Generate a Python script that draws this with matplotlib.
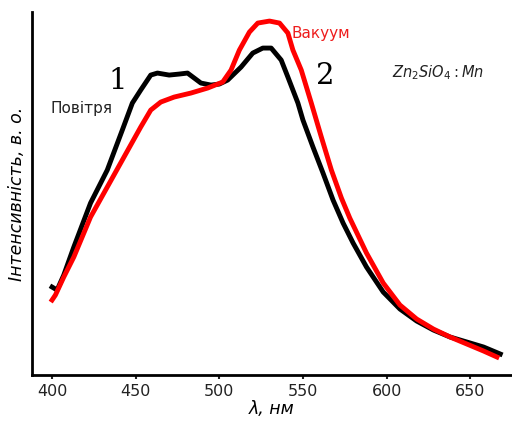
import matplotlib
matplotlib.use("Agg")
import matplotlib.pyplot as plt

# wavelength (nm) and intensity (arb. units)
air_nm = [400, 403, 407, 413, 423, 433, 442, 448, 453, 459, 463, 470, 476, 481,
          489, 495, 500, 505, 513, 520, 526, 531, 537, 541, 547, 550, 556, 562,
          568, 574, 580, 588, 598, 608, 618, 628, 638, 648, 658, 668]
air_int = [88, 85, 100, 128, 172, 205, 245, 272, 285, 300, 302, 300, 301, 302,
           292, 290, 291, 295, 308, 322, 327, 327, 315, 298, 272, 255, 228, 202,
           175, 152, 132, 108, 83, 66, 54, 45, 38, 33, 28, 21]
vac_nm = [400, 402, 407, 413, 423, 433, 443, 453, 459, 465, 473, 483, 493, 502,
          507, 512, 518, 523, 530, 536, 541, 544, 549, 555, 561, 567, 573, 578,
          588, 598, 608, 618, 628, 638, 648, 658, 666]
vac_int = [75, 80, 98, 118, 158, 188, 218, 248, 265, 273, 278, 282, 287, 293,
           305, 325, 343, 352, 354, 352, 342, 325, 305, 272, 238, 205, 177, 157,
           122, 92, 70, 56, 46, 38, 31, 24, 18]

xticks = [400, 450, 500, 550, 600, 650]

fig = plt.figure(figsize=(5.12, 4.25), dpi=100)
ax = fig.add_axes([0.0625, 0.1176, 0.9375, 0.854])

ax.plot(air_nm, air_int, color="black", lw=3.5)
ax.plot(vac_nm, vac_int, color="#ff0000", lw=3.5)

ax.set_xlim(388, 675)
ax.set_ylim(0, 363)
ax.set_xticks(xticks)
ax.set_yticks([])
ax.tick_params(axis="x", labelsize=11.5, length=3, width=1.5, colors="#222222")
for s in ["top", "right"]:
    ax.spines[s].set_visible(False)
for s in ["left", "bottom"]:
    ax.spines[s].set_linewidth(2)

ax.set_xlabel("λ, нм", fontsize=12.5, style="italic", labelpad=1)
ax.set_ylabel("Інтенсивність, в. о.", fontsize=12.5, style="italic", labelpad=4)

ax.text(439, 294, "1", fontsize=21, family="DejaVu Serif", ha="center", va="center")
ax.text(563.5, 299, "2", fontsize=21, family="DejaVu Serif", ha="center", va="center")
ax.text(399, 267, "Повітря", fontsize=11, ha="left", va="center", color="#222222")
ax.text(543, 342, "Вакуум", fontsize=11, ha="left", va="center", color="#ee1c1c")
ax.text(603, 302, r"$Zn_2SiO_4:Mn$", fontsize=10.5, ha="left", va="center",
        color="#222222")

fig.savefig("out.png", dpi=100)
